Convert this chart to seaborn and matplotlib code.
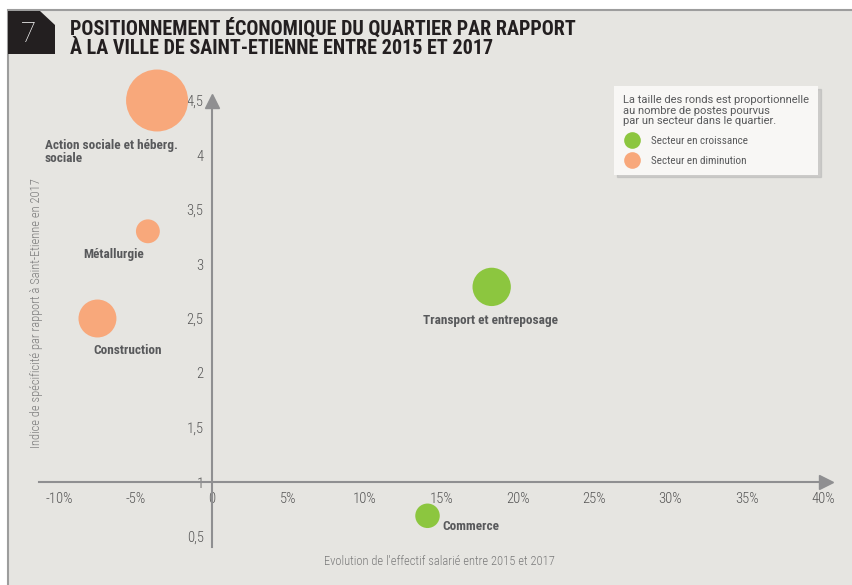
import pandas as pd
import seaborn as sns
import matplotlib.pyplot as plt
from matplotlib.patches import Rectangle, Polygon
from matplotlib.lines import Line2D

# Data
secteurs = ["Action sociale et héberg.\nsociale", "Métallurgie", "Construction",
            "Transport et entreposage", "Commerce"]
evolution = [-3.6, -4.2, -7.5, 18.3, 14.1]      # % evolution 2015-2017
indice = [4.5, 3.3, 2.5, 2.79, 0.69]           # indice de spécificité
postes = [640, 95, 240, 245, 100]              # relative number of jobs (bubble size)
tendance = ["Secteur en diminution", "Secteur en diminution", "Secteur en diminution",
            "Secteur en croissance", "Secteur en croissance"]

xticks = [-10, -5, 0, 5, 10, 15, 20, 25, 30, 35, 40]
xticklabels = ["-10%", "-5%", "0", "5%", "10%", "15%", "20%", "25%", "30%", "35%", "40%"]
yticks = [0.5, 1, 1.5, 2, 2.5, 3, 3.5, 4, 4.5]
yticklabels = ["0,5", "1", "1,5", "2", "2,5", "3", "3,5", "4", "4,5"]

# label offsets (points) relative to each bubble
offsets = [(-81, -37, "left"), (-25, -17, "center"), (22, -23, "center"),
           (-1, -24, "center"), (11, -8, "left")]

GREEN = "#8cc63f"
ORANGE = "#f8a87b"
BG = "#e6e5e1"
TXT = "#58595b"
NARROW = ["Roboto Condensed", "Liberation Sans Narrow", "Roboto", "DejaVu Sans"]
PLAIN = ["Roboto", "DejaVu Sans"]

df = pd.DataFrame({"secteur": secteurs, "evolution": evolution, "indice": indice,
                   "postes": postes, "tendance": tendance})

sns.set_style("white")
W, H = 853, 585
fig = plt.figure(figsize=(W / 100, H / 100), dpi=100, facecolor="white")


def fx(px):
    return px / W


def fy(py):
    return 1 - py / H


# panel background with top/left border
fig.patches.append(Rectangle((fx(8), -0.1), 1.2, fy(10) + 0.1, transform=fig.transFigure,
                             facecolor=BG, edgecolor="#9d9d9d", linewidth=1.5, zorder=-2))
# numbered box
pts = [(8, 11), (40, 11), (55, 25), (55, 54), (8, 54)]
fig.patches.append(Polygon([(fx(a), fy(b)) for a, b in pts], closed=True,
                           transform=fig.transFigure, facecolor="#231f20",
                           edgecolor="none", zorder=-1))
fig.text(fx(29), fy(34), "7", color="white", fontsize=20, ha="center", va="center",
         family=PLAIN, fontweight="light")
fig.text(fx(70), fy(38), "POSITIONNEMENT ÉCONOMIQUE DU QUARTIER PAR RAPPORT\n"
         "À LA VILLE DE SAINT-ETIENNE ENTRE 2015 ET 2017",
         color="#231f20", fontsize=14.5, fontweight="bold", ha="left", va="center",
         linespacing=0.98, family=NARROW)

# axes: 0 at x=212px, 15.28 px per %; y=1 at 482px, 109 px per unit
ax = fig.add_axes([fx(28.7), fy(558.3), (53.5 * 15.28) / W, (4.6 * 109) / H])
ax.set_zorder(2)
ax.set_facecolor("none")
ax.set_xlim(-12, 41.5)
ax.set_ylim(0.3, 4.9)

smax = 1990
sns.scatterplot(data=df, x="evolution", y="indice", hue="tendance", size="postes",
                palette={"Secteur en croissance": GREEN, "Secteur en diminution": ORANGE},
                sizes=(0, smax), size_norm=(0, max(postes)), linewidth=0, alpha=1,
                legend=False, ax=ax, clip_on=False, zorder=2)

for i, row in df.iterrows():
    dx, dy, ha = offsets[i]
    ax.annotate(row["secteur"], (row["evolution"], row["indice"]), xytext=(dx, dy),
                textcoords="offset points", ha=ha, va="center", fontsize=9.5,
                fontweight="bold", color=TXT, family=NARROW, linespacing=0.95,
                annotation_clip=False)

# crossing axes
for s in ["top", "right"]:
    ax.spines[s].set_visible(False)
ax.spines["left"].set_position(("data", 0))
ax.spines["bottom"].set_position(("data", 1))
ax.spines["left"].set_bounds(0.4, 4.5)
ax.spines["bottom"].set_bounds(-11.3, 40)
for s in ["left", "bottom"]:
    ax.spines[s].set_color("#8f8f91")
    ax.spines[s].set_linewidth(1.5)
    ax.spines[s].set_zorder(1)
ax.plot([40.2], [1], marker=">", markersize=10, color="#8f8f91", clip_on=False, zorder=1)
ax.plot([0], [4.5], marker="^", markersize=10, color="#8f8f91", clip_on=False, zorder=1)

ax.set_xticks(xticks, xticklabels)
ax.set_yticks(yticks, yticklabels)
ax.tick_params(length=0, labelsize=10.5, labelcolor="#555555")
ax.tick_params(axis="x", pad=7)
ax.tick_params(axis="y", pad=6)
for lab in ax.get_xticklabels() + ax.get_yticklabels():
    lab.set_family(NARROW)
    lab.set_fontweight("light")
    lab.set_zorder(3)

ax.set_xlabel("Evolution de l'effectif salarié entre 2015 et 2017", fontsize=9,
              color="#7a7a7a", family=NARROW, fontweight="light")
ax.xaxis.set_label_coords(0.503, 0.006)
ax.set_ylabel("Indice de spécificité par rapport à Saint-Etienne en 2017", fontsize=9,
              color="#7a7a7a", family=NARROW, fontweight="light")
ax.yaxis.set_label_coords(0.017, 0.49)

# legend
handles = [Line2D([], [], marker="o", ls="", markersize=12, markerfacecolor=c,
                  markeredgecolor="none") for c in (GREEN, ORANGE)]
leg = fig.legend(handles, ["Secteur en croissance", "Secteur en diminution"],
                 title="La taille des ronds est proportionnelle\nau nombre de postes pourvus\n"
                       "par un secteur dans le quartier.",
                 loc="upper left", bbox_to_anchor=(fx(614), fy(86)), borderaxespad=0,
                 alignment="left", frameon=True, fancybox=False, facecolor="#f8f7f5",
                 edgecolor="none", framealpha=1, shadow={"color": "0.7", "alpha": 0.5},
                 prop={"family": NARROW, "size": 8},
                 title_fontproperties={"family": PLAIN, "size": 8},
                 handlelength=1.6, handletextpad=0.9, labelspacing=0.87, borderpad=0.8)
leg.get_title().set_color(TXT)
leg.get_title().set_linespacing(1.1)
for t in leg.get_texts():
    t.set_color(TXT)

fig.savefig("out.png", dpi=100, facecolor="white")
